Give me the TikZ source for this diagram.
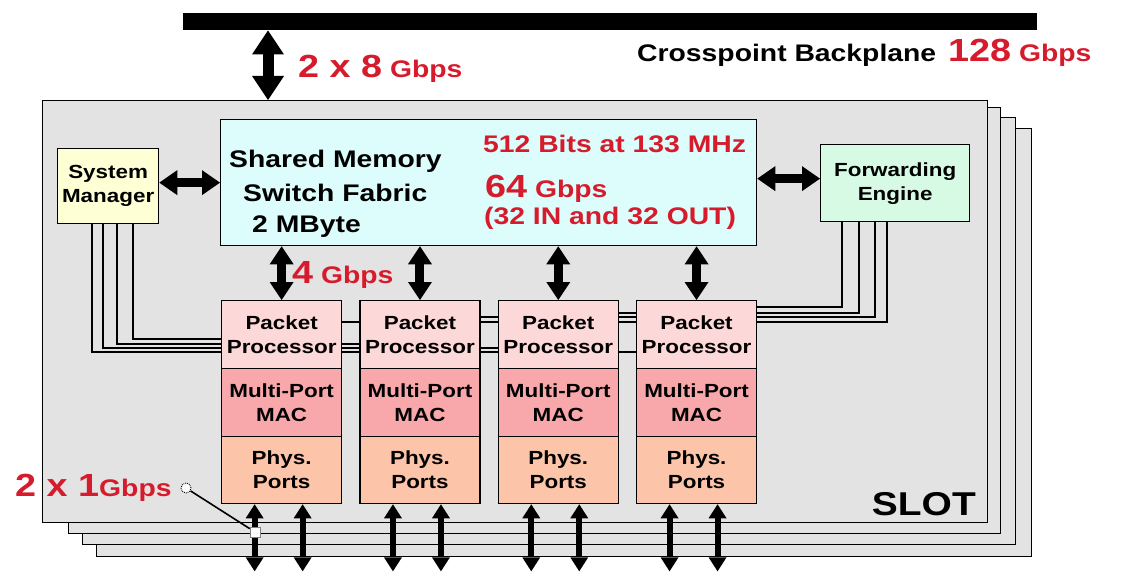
\documentclass[tikz,border=0pt]{standalone}
\usepackage{fontspec}
\setmainfont{Liberation Sans}[FakeStretch=1.18]
\usetikzlibrary{arrows.meta,calc}

\definecolor{slotgray}{RGB}{227,227,227}
\definecolor{smfcyan}{RGB}{221,252,252}
\definecolor{smyellow}{RGB}{255,255,214}
\definecolor{fegreen}{RGB}{215,250,228}
\definecolor{ppfill}{RGB}{253,216,216}
\definecolor{macfill}{RGB}{248,168,170}
\definecolor{phyfill}{RGB}{252,196,168}
\definecolor{redtxt}{RGB}{214,28,44}

\newcommand\fsz[1]{\fontsize{#1}{#1}\selectfont}

\pgfdeclarelayer{back}
\pgfdeclarelayer{mid}
\pgfsetlayers{back,mid,main}

\begin{document}
\begin{tikzpicture}[x=1pt,y=-1pt,
  slotbox/.style={draw=black, line width=1.3pt, fill=slotgray, inner sep=0pt, anchor=north west},
  box/.style={draw=black, line width=1.3pt, inner sep=0pt, anchor=north west, align=center,
              font=\fontsize{19}{24}\selectfont\bfseries},
  txt/.style={inner sep=0pt, anchor=base west, font=\fsz{24}\bfseries},
  redt/.style={txt, text=redtxt},
  bus/.style={line width=2pt, draw=black},
  bigarrow/.style={line width=11pt,
    {Triangle[width=32pt,length=24pt,line width=0pt]}-{Triangle[width=32pt,length=24pt,line width=0pt]}},
  midarrow/.style={line width=9pt,
    {Triangle[width=24pt,length=18pt,line width=0pt]}-{Triangle[width=24pt,length=18pt,line width=0pt]}},
  sidearrow/.style={line width=9pt,
    {Triangle[width=25pt,length=18pt,line width=0pt]}-{Triangle[width=25pt,length=18pt,line width=0pt]}},
  portarrow/.style={line width=6pt,
    {Triangle[width=18pt,length=14pt,line width=0pt]}-{Triangle[width=18pt,length=14pt,line width=0pt]}},
]
\useasboundingbox (0,0) rectangle (1124,572);

% backplane bar
\node[fill=black, inner sep=0pt, anchor=north west, minimum width=854pt, minimum height=17pt] (bp) at (183,13) {};
\node[txt] (bptext) at (637,62) {Crosspoint Backplane\hspace{12pt}\textcolor{redtxt}{{\fsz{32}128} Gbps}};

% stacked slot cards
\begin{pgfonlayer}{back}
  \foreach \n/\x/\y/\w/\h in {4/96/128/935/428, 3/82/117/933/427, 2/68/107/932/426, 1/42/100/945/422}
    \node[slotbox, minimum width=\w pt, minimum height=\h pt] (slot\n) at (\x,\y) {};
\end{pgfonlayer}
\node[inner sep=0pt, anchor=base east, font=\fontsize{33}{33}\selectfont\bfseries] (slotlbl) at (976,515) {SLOT};

% link to the backplane
\coordinate (bpx) at (268,0);
\draw[bigarrow] (bp.south -| bpx) -- (slot1.north -| bpx);
\node[redt] (bprate) at (298,78) {{\fsz{32}2 x 8} Gbps};

% switch fabric
\node[box, fill=smfcyan, minimum width=536pt, minimum height=126pt] (smf) at (220,119) {};
\node[txt] (smf1) at (229,168) {Shared Memory};
\node[txt] (smf2) at (243,202) {Switch Fabric};
\node[txt] (smf3) at (252,233) {2 MByte};
\node[redt] (smf4) at (483,153) {512 Bits at 133 MHz};
\node[redt] (smf5) at (485,197) {{\fsz{32}64} Gbps};
\node[redt] (smf6) at (484,224) {(32 IN and 32 OUT)};

% system manager and forwarding engine
\node[box, fill=smyellow, minimum width=101pt, minimum height=75pt] (sm) at (57,148) {System\\Manager};
\node[box, fill=fegreen, minimum width=149pt, minimum height=77pt] (fe) at (820,144) {Forwarding\\Engine};
\coordinate (smport) at ([yshift=3.5pt]sm.east);
\draw[sidearrow] (smport) -- (smport -| smf.west);
\coordinate (feport) at ([yshift=4.5pt]fe.west);
\draw[sidearrow] (feport -| smf.east) -- (feport);

% line cards
\foreach \i in {1,...,4} {
  \pgfmathsetmacro\cx{221+138.3*(\i-1)}
  \node[box, fill=ppfill, minimum width=120pt, minimum height=68pt] (pp\i) at (\cx,300) {Packet\\Processor};
  \node[box, fill=macfill, minimum width=120pt, minimum height=68pt] (mac\i) at (\cx,368) {Multi-Port\\MAC};
  \node[box, fill=phyfill, minimum width=120pt, minimum height=67pt] (phy\i) at (\cx,436) {Phys.\\Ports};
  \draw[midarrow] (smf.south -| pp\i.north) -- (pp\i.north);
  \coordinate (oa\i) at ($(phy\i.south)+(-27,67)$);
  \coordinate (ob\i) at ($(phy\i.south)+(21,67)$);
  \draw[portarrow] (phy\i.south -| oa\i) -- (oa\i);
  \draw[portarrow] (phy\i.south -| ob\i) -- (ob\i);
}
\node[redt] (pprate) at (292,283) {{\fsz{32}4} Gbps};

% management buses (behind the line cards)
\begin{pgfonlayer}{mid}
  \foreach \tx/\ly/\k in {133/339/1, 117/344/2, 103/348/3, 92/352/4} {
    \coordinate (smtap\k) at (\tx,\ly);
    \draw[bus] (sm.south -| smtap\k) |- (pp\k.west |- smtap\k);
  }
  \foreach \tx/\ly/\k in {842/307/4, 859/313/3, 875/317/2, 887/322/1} {
    \coordinate (fetap\k) at (\tx,\ly);
    \draw[bus] (fe.south -| fetap\k) |- (pp\k.east |- fetap\k);
  }
\end{pgfonlayer}

% port rate callout
\node[redt] (portrate) at (15,496) {{\fsz{32}2 x 1}Gbps};
\node[circle, draw=black, densely dotted, line width=0.9pt, fill=white, minimum size=10pt, inner sep=0pt] (pin) at (186,488) {};
\node[draw=gray, line width=0.6pt, fill=white, minimum size=10pt, inner sep=0pt] (pinend) at (255,532) {};
\draw[line width=1.6pt] (pin) -- (pinend);
\end{tikzpicture}
\end{document}
